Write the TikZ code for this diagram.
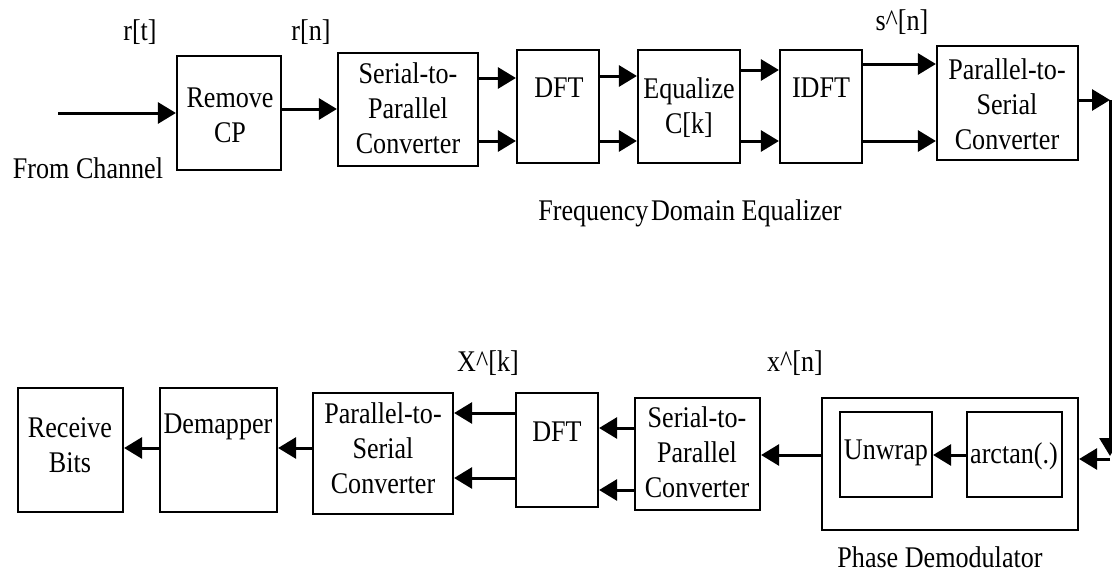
\documentclass[tikz,border=0pt]{standalone}
\usepackage{fontspec}
\setmainfont{Liberation Serif}[FakeStretch=0.87]
\usetikzlibrary{arrows.meta}
\begin{document}
\begin{tikzpicture}[x=1pt,y=-1pt,
  box/.style={draw,line width=2.2pt,inner sep=0pt},
  txt/.style={inner sep=0pt,align=center,font=\fontsize{30}{35}\selectfont},
  arr/.style={line width=3pt,-{Triangle[length=18pt,width=21pt]}},
  ln/.style={line width=3pt}]
\useasboundingbox (0,0) rectangle (1112,573);
% ---------- top row boxes ----------
\node[box,minimum width=104pt,minimum height=114pt] (rcp) at (229,113) {};
\node[box,minimum width=140pt,minimum height=113pt] (sp1) at (408,109.5) {};
\node[box,minimum width=82pt,minimum height=113pt] (dft1) at (558,106.5) {};
\node[box,minimum width=102pt,minimum height=113pt] (eq) at (689,106.5) {};
\node[box,minimum width=82pt,minimum height=113pt] (idft) at (821,106.5) {};
\node[box,minimum width=141pt,minimum height=114pt] (ps1) at (1007.5,103) {};
% texts
\node[txt] (rcpt) at (230,115) {Remove\\CP};
\node[txt] (sp1t) at (408,108) {Serial-to-\\Parallel\\Converter};
\node[txt] (dft1t) at (559,88) {DFT};
\node[txt] (eqt) at (689,108) {Equalize\\C[k]};
\node[txt] (idftt) at (821,88) {IDFT};
\node[txt] (ps1t) at (1007,104) {Parallel-to-\\Serial\\Converter};
\node[txt] (rt) at (140,32) {r[t]};
\node[txt] (rn) at (311,32) {r[n]};
\node[txt] (sn) at (902,22) {s\textasciicircum[n]};
\node[txt] (fc) at (88,168) {From Channel};
\node[txt] (fde) at (690,213) {Frequency\hspace{-4pt} Domain Equalizer};
\coordinate (src) at (58,113);
% top arrows
\draw[arr] (src) -- (rcp.west |- src);
\draw[arr] (rcp.east |- 0,109) -- (sp1.west |- 0,109);
\draw[arr] (sp1.east |- 0,78) -- (dft1.west |- 0,78);
\draw[arr] (sp1.east |- 0,141) -- (dft1.west |- 0,141);
\draw[arr] (dft1.east |- 0,76) -- (eq.west |- 0,76);
\draw[arr] (dft1.east |- 0,141) -- (eq.west |- 0,141);
\draw[arr] (eq.east |- 0,70) -- (idft.west |- 0,70);
\draw[arr] (eq.east |- 0,141) -- (idft.west |- 0,141);
\draw[arr] (idft.east |- 0,64) -- (ps1.west |- 0,64);
\draw[arr] (idft.east |- 0,141) -- (ps1.west |- 0,141);
% ---------- bottom row ----------
\node[box,minimum width=105pt,minimum height=124pt] (rb) at (70.5,450) {};
\node[box,minimum width=117pt,minimum height=124pt] (dm) at (218.5,450) {};
\node[box,minimum width=140pt,minimum height=121pt] (ps2) at (383,453.5) {};
\node[box,minimum width=82pt,minimum height=114pt] (dft2) at (557,450) {};
\node[box,minimum width=125pt,minimum height=112pt] (sp2) at (697.5,454) {};
\node[box,minimum width=256pt,minimum height=132pt] (pd) at (950,464) {};
\node[box,minimum width=92pt,minimum height=85pt] (uw) at (886,454.5) {};
\node[box,minimum width=95pt,minimum height=85pt] (at) at (1014.5,454.5) {};
\node[txt] (rbt) at (70,445) {Receive\\Bits};
\node[txt] (dmt) at (218,427) {Demapper};
\node[txt] (ps2t) at (383,448) {Parallel-to-\\Serial\\Converter};
\node[txt] (dft2t) at (557,432) {DFT};
\node[txt] (sp2t) at (697,452) {Serial-to-\\Parallel\\Converter};
\node[txt] (uwt) at (886,453) {Unwrap};
\node[txt] (att) at (1014,456) {arctan(.)};
\node[txt] (xk) at (488,363) {X\textasciicircum[k]};
\node[txt] (xn) at (795,363) {x\textasciicircum[n]};
\node[txt] (pdt) at (940,557) {Phase Demodulator};
% bottom arrows
\draw[arr] (dm.west |- 0,448) -- (rb.east |- 0,448);
\draw[arr] (ps2.west |- 0,448) -- (dm.east |- 0,448);
\draw[arr] (dft2.west |- 0,413) -- (ps2.east |- 0,413);
\draw[arr] (dft2.west |- 0,478) -- (ps2.east |- 0,478);
\draw[arr] (sp2.west |- 0,428) -- (dft2.east |- 0,428);
\draw[arr] (sp2.west |- 0,490) -- (dft2.east |- 0,490);
\draw[arr] (pd.west |- 0,455) -- (sp2.east |- 0,455);
\draw[arr] (at.west |- 0,455) -- (uw.east |- 0,455);
% feedback path on right
\coordinate (c1) at (1110,100);
\coordinate (c2) at (1110,456);
\draw[arr] (ps1.east |- c1) -- (c1);
\draw[arr] (c1) -- (c2);
\draw[arr] (c2 |- 0,459) -- (pd.east |- 0,459);
\end{tikzpicture}
\end{document}
